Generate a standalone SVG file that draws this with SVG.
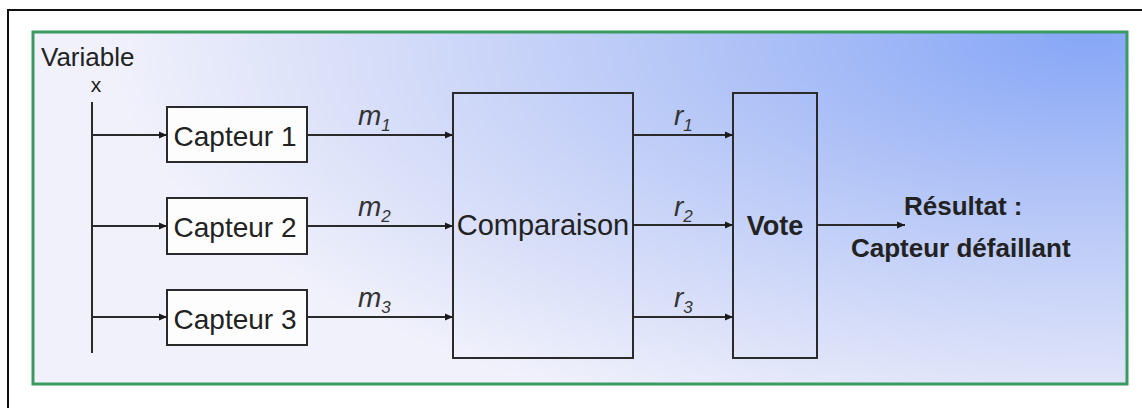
<svg xmlns="http://www.w3.org/2000/svg" width="1142" height="408" viewBox="0 0 1142 408">
<defs>
<radialGradient id="bg" gradientUnits="userSpaceOnUse" cx="0" cy="0" r="1" gradientTransform="translate(1090 35) scale(980 420)">
<stop offset="0" stop-color="#86a6f6"/>
<stop offset="0.45" stop-color="#b9c9f7"/>
<stop offset="0.8" stop-color="#dde2f9"/>
<stop offset="1" stop-color="#f0f1fb"/>
</radialGradient>
<marker id="ah" viewBox="0 0 8 8" refX="8" refY="4" markerWidth="8" markerHeight="8" markerUnits="userSpaceOnUse" orient="auto">
<path d="M0,0.5 L8,4 L0,7.5 z" fill="#1a1a1a"/>
</marker>
<style>
.t{font-family:"Liberation Sans",Arial,sans-serif;fill:#222}
.box{fill:none;stroke:#2a2a2a;stroke-width:2}
.cap{fill:#fdfdfd;stroke:#2a2a2a;stroke-width:2}
.ln{stroke:#2a2a2a;stroke-width:2;fill:none}
.ar{stroke:#2a2a2a;stroke-width:2;fill:none;marker-end:url(#ah)}
.lab{font-family:"Liberation Sans",Arial,sans-serif;font-style:italic;fill:#333}
</style>
</defs>
<rect width="1142" height="408" fill="#ffffff"/>
<path d="M8,408 V10 H1142" fill="none" stroke="#111" stroke-width="2"/>
<rect x="33" y="32" width="1094" height="352" fill="url(#bg)" stroke="#3a9a62" stroke-width="3"/>

<g id="variable">
<text class="t" x="41" y="66" font-size="26">Variable</text>
<text class="t" x="96" y="92" font-size="21" text-anchor="middle">x</text>
</g>

<g id="capteur1">
<rect class="cap" x="167" y="107" width="140" height="55"/>
<text class="t" x="235" y="146" font-size="28" text-anchor="middle">Capteur 1</text>
</g>
<g id="capteur2">
<rect class="cap" x="167" y="198" width="140" height="56"/>
<text class="t" x="235" y="237" font-size="28" text-anchor="middle">Capteur 2</text>
</g>
<g id="capteur3">
<rect class="cap" x="167" y="290" width="140" height="55"/>
<text class="t" x="235" y="329" font-size="28" text-anchor="middle">Capteur 3</text>
</g>
<g id="comparaison">
<rect class="box" x="453" y="93" width="180" height="265"/>
<text class="t" x="543" y="235" font-size="29" text-anchor="middle">Comparaison</text>
</g>
<g id="vote">
<rect class="box" x="733" y="93" width="84" height="265"/>
<text class="t" x="775" y="235" font-size="27" font-weight="bold" text-anchor="middle">Vote</text>
</g>
<g id="resultat">
<text class="t" x="904" y="215" font-size="26" font-weight="bold">Résultat :</text>
<text class="t" x="851" y="257" font-size="26" font-weight="bold">Capteur défaillant</text>
</g>

<g id="connectors">
<line class="ln" x1="92" y1="102" x2="92" y2="353"/>
<line class="ar" x1="92" y1="135" x2="167" y2="135"/>
<line class="ar" x1="92" y1="226" x2="167" y2="226"/>
<line class="ar" x1="92" y1="317" x2="167" y2="317"/>
<line class="ar" x1="307" y1="135" x2="453" y2="135"/>
<line class="ar" x1="307" y1="226" x2="453" y2="226"/>
<line class="ar" x1="307" y1="317" x2="453" y2="317"/>
<line class="ar" x1="633" y1="135" x2="733" y2="135"/>
<line class="ar" x1="633" y1="225" x2="733" y2="225"/>
<line class="ar" x1="633" y1="317" x2="733" y2="317"/>
<line class="ar" x1="817" y1="225" x2="905" y2="225"/>
<text class="lab" x="358" y="125" font-size="28">m<tspan font-size="17" dy="6">1</tspan></text>
<text class="lab" x="358" y="216" font-size="28">m<tspan font-size="17" dy="6">2</tspan></text>
<text class="lab" x="358" y="307" font-size="28">m<tspan font-size="17" dy="6">3</tspan></text>
<text class="lab" x="674" y="125" font-size="28">r<tspan font-size="17" dy="6">1</tspan></text>
<text class="lab" x="674" y="216" font-size="28">r<tspan font-size="17" dy="6">2</tspan></text>
<text class="lab" x="674" y="307" font-size="28">r<tspan font-size="17" dy="6">3</tspan></text>
</g>
</svg>
